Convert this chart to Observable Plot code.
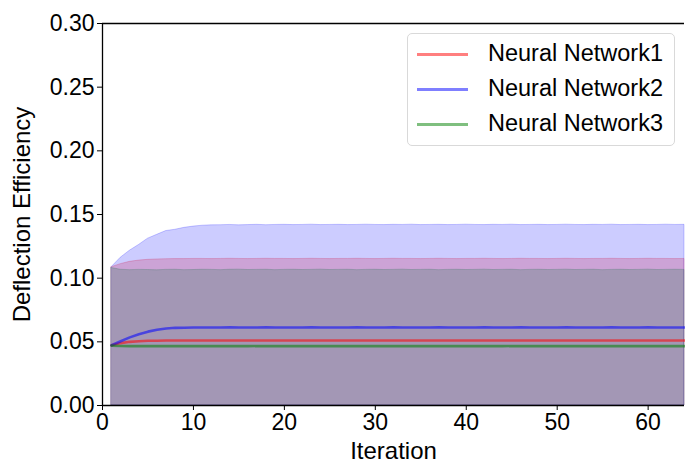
<!DOCTYPE html>
<html><head><meta charset="utf-8">
<script src="https://cdn.jsdelivr.net/npm/d3@7"></script>
<script src="https://cdn.jsdelivr.net/npm/@observablehq/plot@0.6"></script>
<style>
body{margin:0;background:#fff;font-family:"Liberation Sans",Arial,sans-serif;}
#wrap{position:relative;width:685px;height:465px;overflow:hidden;}
#legend{position:absolute;left:407px;top:33px;width:268px;height:113px;border:1px solid #d9d9d9;border-radius:5px;background:rgba(255,255,255,0.8);box-sizing:border-box;}
.item{position:absolute;left:0;height:30px;font-size:23.5px;color:#000;}
.item span.sw{position:absolute;left:9px;top:13px;width:51px;height:2.5px;}
.item span.tx{position:absolute;left:80px;top:0px;white-space:nowrap;line-height:27px;}
</style></head>
<body><div id="wrap"><div id="chart"></div><div id="legend"></div></div>
<script>
const iterations = [1,2,3,4,5,6,7,8,9,10,11,12,13,14,15,16,17,18,19,20,21,22,23,24,25,26,27,28,29,30,31,32,33,34,35,36,37,38,39,40,41,42,43,44,45,46,47,48,49,50,51,52,53,54,55,56,57,58,59,60,61,62,63,64];
const seriesNames = ["Neural Network1","Neural Network2","Neural Network3"];
const seriesColors = ["red","blue","green"];
const nn1Mean = [0.0473,0.0490,0.0500,0.0505,0.0508,0.0509,0.0510,0.0510,0.0511,0.0510,0.0511,0.0510,0.0511,0.0511,0.0510,0.0511,0.0510,0.0511,0.0511,0.0510,0.0511,0.0510,0.0511,0.0511,0.0510,0.0511,0.0510,0.0511,0.0511,0.0510,0.0511,0.0510,0.0511,0.0511,0.0510,0.0511,0.0510,0.0511,0.0511,0.0510,0.0511,0.0510,0.0511,0.0511,0.0510,0.0511,0.0510,0.0511,0.0511,0.0510,0.0511,0.0510,0.0511,0.0511,0.0510,0.0511,0.0510,0.0511,0.0511,0.0510,0.0511,0.0510,0.0511,0.0511];
const nn1Upper = [0.1086,0.1110,0.1128,0.1138,0.1144,0.1147,0.1149,0.1150,0.1150,0.1151,0.1151,0.1150,0.1151,0.1152,0.1151,0.1150,0.1151,0.1152,0.1151,0.1151,0.1150,0.1151,0.1152,0.1151,0.1150,0.1151,0.1151,0.1152,0.1151,0.1150,0.1151,0.1152,0.1151,0.1151,0.1150,0.1151,0.1152,0.1151,0.1150,0.1151,0.1151,0.1152,0.1151,0.1150,0.1151,0.1152,0.1151,0.1151,0.1150,0.1151,0.1152,0.1151,0.1150,0.1151,0.1151,0.1152,0.1151,0.1150,0.1151,0.1152,0.1151,0.1151,0.1150,0.1151];
const nn2Mean = [0.0473,0.0505,0.0535,0.0560,0.0580,0.0595,0.0605,0.0610,0.0611,0.0612,0.0613,0.0612,0.0613,0.0614,0.0613,0.0612,0.0613,0.0614,0.0613,0.0613,0.0612,0.0613,0.0614,0.0613,0.0612,0.0613,0.0613,0.0614,0.0613,0.0612,0.0613,0.0614,0.0613,0.0613,0.0612,0.0613,0.0614,0.0613,0.0612,0.0613,0.0613,0.0614,0.0613,0.0612,0.0613,0.0614,0.0613,0.0613,0.0612,0.0613,0.0614,0.0613,0.0612,0.0613,0.0613,0.0614,0.0613,0.0612,0.0613,0.0614,0.0613,0.0613,0.0612,0.0613];
const nn2Upper = [0.1086,0.1160,0.1215,0.1260,0.1310,0.1340,0.1370,0.1380,0.1395,0.1405,0.1412,0.1415,0.1416,0.1418,0.1415,0.1417,0.1419,0.1416,0.1418,0.1419,0.1417,0.1418,0.1420,0.1417,0.1418,0.1419,0.1417,0.1418,0.1420,0.1418,0.1417,0.1419,0.1418,0.1420,0.1417,0.1418,0.1419,0.1417,0.1418,0.1420,0.1418,0.1417,0.1419,0.1418,0.1420,0.1417,0.1418,0.1419,0.1417,0.1418,0.1420,0.1418,0.1417,0.1419,0.1418,0.1420,0.1417,0.1418,0.1419,0.1417,0.1418,0.1420,0.1418,0.1419];
const nn3Mean = [0.0470,0.0467,0.0466,0.0466,0.0467,0.0466,0.0466,0.0466,0.0467,0.0466,0.0466,0.0466,0.0467,0.0466,0.0466,0.0466,0.0467,0.0466,0.0466,0.0466,0.0467,0.0466,0.0466,0.0466,0.0467,0.0466,0.0466,0.0466,0.0467,0.0466,0.0466,0.0466,0.0467,0.0466,0.0466,0.0466,0.0467,0.0466,0.0466,0.0466,0.0467,0.0466,0.0466,0.0466,0.0467,0.0466,0.0466,0.0466,0.0467,0.0466,0.0466,0.0466,0.0467,0.0466,0.0466,0.0466,0.0467,0.0466,0.0466,0.0466,0.0467,0.0466,0.0466,0.0466];
const nn3Upper = [0.1080,0.1066,0.1063,0.1065,0.1064,0.1062,0.1065,0.1066,0.1063,0.1064,0.1066,0.1065,0.1063,0.1066,0.1067,0.1064,0.1065,0.1066,0.1063,0.1065,0.1066,0.1064,0.1065,0.1067,0.1064,0.1065,0.1066,0.1063,0.1065,0.1066,0.1064,0.1065,0.1067,0.1064,0.1065,0.1066,0.1063,0.1065,0.1066,0.1064,0.1065,0.1067,0.1064,0.1065,0.1066,0.1063,0.1065,0.1066,0.1064,0.1065,0.1067,0.1064,0.1065,0.1066,0.1063,0.1065,0.1066,0.1064,0.1065,0.1067,0.1064,0.1065,0.1066,0.1065];
const nn1Lower = iterations.map(() => 0);
const nn2Lower = iterations.map(() => 0);
const nn3Lower = iterations.map(() => 0);
const xTicks = [0,10,20,30,40,50,60];
const yTicks = [0,0.05,0.10,0.15,0.20,0.25,0.30];

const means = [nn1Mean, nn2Mean, nn3Mean];
const uppers = [nn1Upper, nn2Upper, nn3Upper];
const lowers = [nn1Lower, nn2Lower, nn3Lower];
const tables = seriesNames.map((s, k) => iterations.map((it, i) => ({it, m: means[k][i], lo: lowers[k][i], hi: uppers[k][i]})));

const marks = [];
// bands (drawn red, green, blue) then lines on top
[0, 2, 1].forEach(k => {
  marks.push(Plot.areaY(tables[k], {x: "it", y1: "lo", y2: "hi", fill: seriesColors[k], fillOpacity: 0.2, stroke: seriesColors[k], strokeOpacity: 0.2, strokeWidth: 1}));
});
tables.forEach((t, k) => {
  marks.push(Plot.lineY(t, {x: "it", y: "m", stroke: seriesColors[k], strokeOpacity: 0.55, strokeWidth: 2.6}));
});
marks.push(Plot.ruleX([0], {stroke: "black", strokeWidth: 1.3}));
marks.push(Plot.ruleY([0], {stroke: "black", strokeWidth: 1.3}));
marks.push(Plot.ruleY([0.3], {stroke: "black", strokeWidth: 1.3}));
marks.push(Plot.axisX({ticks: xTicks, tickSize: 5, tickPadding: 3, tickFormat: d3.format("d"), fontSize: 23, label: null, stroke: "black"}));
marks.push(Plot.axisY({ticks: yTicks, tickSize: 5, tickPadding: 3, tickFormat: d3.format(".2f"), fontSize: 23, label: null, stroke: "black"}));
marks.push(Plot.text(["Iteration"], {frameAnchor: "bottom", lineAnchor: "middle", textAnchor: "middle", dy: 46, fontSize: 24, fill: "black"}));
marks.push(Plot.text(["Deflection Efficiency"], {frameAnchor: "left", lineAnchor: "middle", textAnchor: "middle", dx: -80, rotate: -90, fontSize: 24, fill: "black"}));

const chart = Plot.plot({
  width: 685, height: 465,
  marginLeft: 102, marginRight: 1, marginTop: 23, marginBottom: 60,
  x: {domain: [0, 64]},
  y: {domain: [0, 0.3]},
  style: {fontFamily: "'Liberation Sans', Arial, sans-serif", color: "black", background: "white", overflow: "visible"},
  marks
});
document.getElementById("chart").appendChild(chart);

const lg = document.getElementById("legend");
seriesNames.forEach((s, k) => {
  const d = document.createElement("div");
  d.className = "item";
  d.style.top = (6 + k * 35) + "px";
  d.innerHTML = `<span class="sw" style="background:${seriesColors[k]};opacity:0.5"></span><span class="tx">${s}</span>`;
  lg.appendChild(d);
});
</script></body></html>
